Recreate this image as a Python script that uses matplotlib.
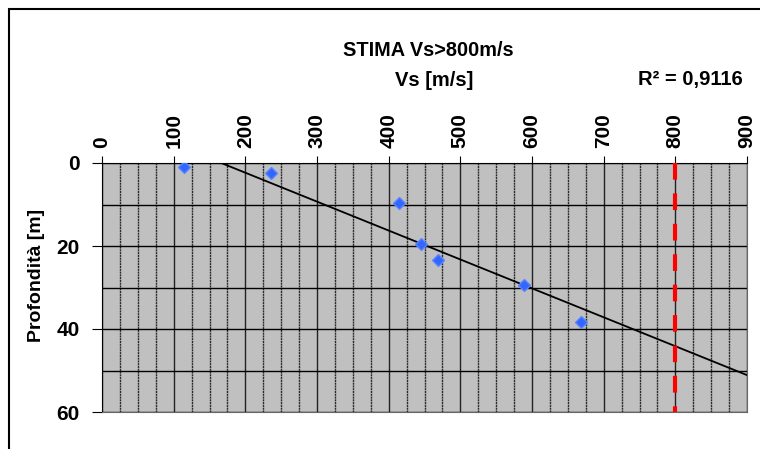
import matplotlib
matplotlib.use('Agg')
import matplotlib.pyplot as plt
import numpy as np
from matplotlib.patches import Rectangle

plt.rcParams['font.family'] = ['Liberation Sans', 'DejaVu Sans']
plt.rcParams['font.weight'] = 'bold'

# punti misurati: velocita' (m/s) e profondita' (m)
vs = [114, 236, 414, 445, 469, 589, 669]
prof = [1.0, 2.4, 9.6, 19.4, 23.3, 29.3, 38.4]
vs_limite = 800
r2_text = 'R² = 0,9116'
x_ticks = [0, 100, 200, 300, 400, 500, 600, 700, 800, 900]
y_ticks = [0, 20, 40, 60]

fig = plt.figure(figsize=(7.6, 4.49), dpi=100)
ax = fig.add_axes([102/760, 1-412/449, (747-102)/760, (412-163)/449])

# cornice esterna del grafico
fig.patches.append(Rectangle((9/760, -0.1), 1.2, 1-9/449+0.1, transform=fig.transFigure,
                             fill=False, edgecolor='black', linewidth=1.5))

ax.set_facecolor('#C0C0C0')
ax.set_xlim(0, 900)
ax.set_ylim(60, 0)

# griglia
ax.set_xticks(np.arange(0, 901, 25), minor=True)
ax.set_yticks(np.arange(0, 61, 10), minor=True)
ax.grid(which='minor', axis='x', color='#2a2a2a', linewidth=1.0, linestyle=(0, (1.5, 0.5)))
ax.grid(which='major', axis='x', color='#222222', linewidth=1.0)
ax.grid(which='both', axis='y', color='black', linewidth=1.0)
ax.set_axisbelow(True)

# retta di tendenza
k, q = np.polyfit(vs, prof, 1)
xx = np.array([0, 900])
ax.plot(xx, k*xx + q, color='black', linewidth=1.3, zorder=3)

ax.plot(vs, prof, linestyle='none', marker='D', markersize=6.5, color='#3366FF',
        markeredgecolor='#5A86FF', zorder=4)

# limite 800 m/s, tratteggio dall'alto
ax.plot([vs_limite, vs_limite], [0, 60], color='#FF0000', linewidth=3,
        linestyle=(0, (4, 3.3)), zorder=5, clip_on=False)

ax.xaxis.tick_top()
ax.set_xticks(x_ticks)
ax.set_yticks(y_ticks)
ax.set_xticklabels([str(v) for v in x_ticks], rotation=90, fontsize=15, fontweight='bold')
ax.set_yticklabels([str(v) for v in y_ticks], fontsize=15, fontweight='bold')
ax.tick_params(axis='x', which='major', length=5, pad=6, color='black')
ax.tick_params(axis='y', which='major', length=7, pad=9, color='black')
ax.tick_params(which='minor', length=0)

for s in ['left', 'top']:
    ax.spines[s].set_color('black')
for s in ['right', 'bottom']:
    ax.spines[s].set_color('#666666')

ax.set_ylabel('Profondità [m]', fontsize=14, fontweight='bold', va='center')
ax.yaxis.set_label_coords(-0.101, 0.55)

fig.text(428/760, 1-50/449, 'STIMA Vs>800m/s', ha='center', va='center', fontsize=14.3, fontweight='bold')
fig.text(434/760, 1-80/449, 'Vs [m/s]', ha='center', va='center', fontsize=14.5, fontweight='bold')
fig.text(690/760, 1-80/449, r2_text, ha='center', va='center', fontsize=14.5, fontweight='bold')

fig.savefig('out.png', dpi=100)
